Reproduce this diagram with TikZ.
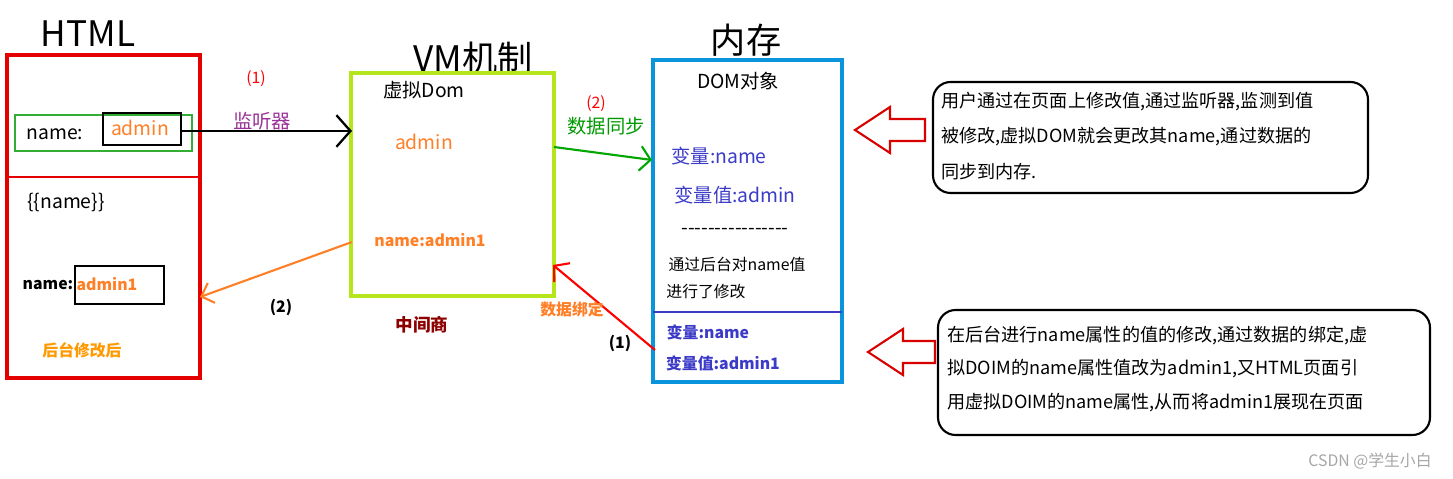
\documentclass[tikz,border=0pt]{standalone}
\usepackage{fontspec}
\setmainfont{Noto Sans CJK SC}
\usetikzlibrary{arrows.meta}
\begin{document}
\begin{tikzpicture}[x=0.02cm,y=-0.02cm,
 t/.style={inner sep=0,font=\fontsize{11}{13}\selectfont},
 big/.style={inner sep=0,font=\fontsize{20}{22}\selectfont},
 sm/.style={inner sep=0,font=\fontsize{9}{11}\selectfont},
 smb/.style={inner sep=0,font=\fontsize{9}{11}\selectfont\bfseries},
 hol/.style={draw=red!85!black,line width=1.2pt,fill=white},
 note/.style={draw=black,line width=1.2pt,rounded corners=10pt},
 nt/.style={inner sep=0,anchor=west,font=\fontsize{10.3}{12}\selectfont}]
\useasboundingbox (0,0) rectangle (1453,479);
\definecolor{vb}{HTML}{3B3BC8}
\definecolor{org}{HTML}{FF7F27}
\definecolor{yg}{HTML}{B5E61D}
% HTML
\node[big] (h) at (88,34) {HTML};
\draw[red!90!black,line width=2.2pt] (7,55) rectangle (200,378);
\draw[red!90!black,line width=1.5pt] (7,177) -- (200,177);
\draw[green!60!black!80,line width=1.3pt] (15,115) rectangle (192,151);
\draw[line width=1.3pt] (103,113) rectangle (181,145);
\node[t] (n1) at (55,134) {name:};
\node[t,text=org] (a1) at (140,128) {admin};
\coordinate (as) at (181,131);
\node[t] at (66,202) {\{\{name\}\}};
\draw[line width=1.3pt] (75,266) rectangle (164,304);
\node[smb] at (48,285) {name:};
\node[smb,text=org] at (107,284) {admin1};
\node[smb,text=orange!80!yellow] at (82,350) {后台修改后};
\coordinate (hr) at (200,297);
% VM
\node[big] at (473,58) {VM机制};
\draw[yg,line width=2.2pt] (351,73) rectangle (554,296);
\node[t] at (424,90) {虚拟Dom};
\node[t,text=org] at (424,142) {admin};
\node[smb,text=org] (vm1) at (430,240) {name:admin1};
\coordinate (vl) at (352,131);
\coordinate (vo) at (352,242);
\coordinate (vs) at (554,147);
\coordinate (vb1) at (553,265);
\node[sm,text=red] at (256,79) {(1)};
\node[t,text=violet!80] at (262,121) {监听器};
\draw[line width=1.3pt,-{Straight Barb[length=8pt,width=18pt]}] (as) -- (vl);
\draw[org,line width=1.2pt,-{Straight Barb[length=6pt,width=12pt]}] (vo) -- (hr);
\node[smb] at (281,307) {(2)};
\node[t,text=red!55!black,font=\fontsize{10}{12}\selectfont\bfseries] at (422,325) {中间商};
% memory
\node[big] at (746,40) {内存};
\draw[cyan!80!blue,line width=2.2pt] (653,60) rectangle (842,382);
\draw[vb,line width=1.2pt] (653,312) -- (842,312);
\node[t] at (738,81) {DOM对象};
\node[t,text=vb] at (719,156) {变量:name};
\node[t,text=vb] at (735,195) {变量值:admin};
\node[t] at (735,231) {-{}-{}-{}-{}-{}-{}-{}-{}-{}-{}-{}-{}-{}-{}-{}-};
\node[sm] at (737,264) {通过后台对name值};
\node[sm] at (706,292) {进行了修改};
\node[smb,text=vb] at (708,332) {变量:name};
\node[smb,text=vb] (mv) at (723,363) {变量值:admin1};
\coordinate (mi) at (652,160);
\coordinate (mo) at (655,350);
\node[sm,text=red] at (596,104) {(2)};
\node[t,text=green!60!black] at (606,126) {数据同步};
\draw[green!65!black,line width=1.2pt,-{Straight Barb[length=6pt,width=14pt]}] (vs) -- (mi);
\draw[red,line width=1.2pt,-{Straight Barb[length=6pt,width=14pt]}] (mo) -- (vb1);
\node[smb,text=org] at (572,309) {数据绑定};
\node[smb] at (620,343) {(1)};
% hollow arrows
\draw[hol] (855,130) -- (890,107) -- (890,119) -- (925,119) -- (925,141) -- (890,141) -- (890,153) -- cycle;
\draw[hol] (868,352) -- (903,329) -- (903,341) -- (935,341) -- (935,363) -- (903,363) -- (903,375) -- cycle;
% notes
\draw[note] (933,82) rectangle (1368,193);
\node[nt] at (941,102) {用户通过在页面上修改值,通过监听器,监测到值};
\node[nt] at (941,137) {被修改,虚拟DOM就会更改其name,通过数据的};
\node[nt] at (941,172) {同步到内存.};
\draw[note] (938,310) rectangle (1430,435);
\node[nt] at (947,336) {在后台进行name属性的值的修改,通过数据的绑定,虚};
\node[nt] at (947,369) {拟DOIM的name属性值改为admin1,又HTML页面引};
\node[nt] at (947,403) {用虚拟DOIM的name属性,从而将admin1展现在页面};
\node[sm,text=gray!70] at (1370,461) {CSDN @学生小白};
\end{tikzpicture}
\end{document}
